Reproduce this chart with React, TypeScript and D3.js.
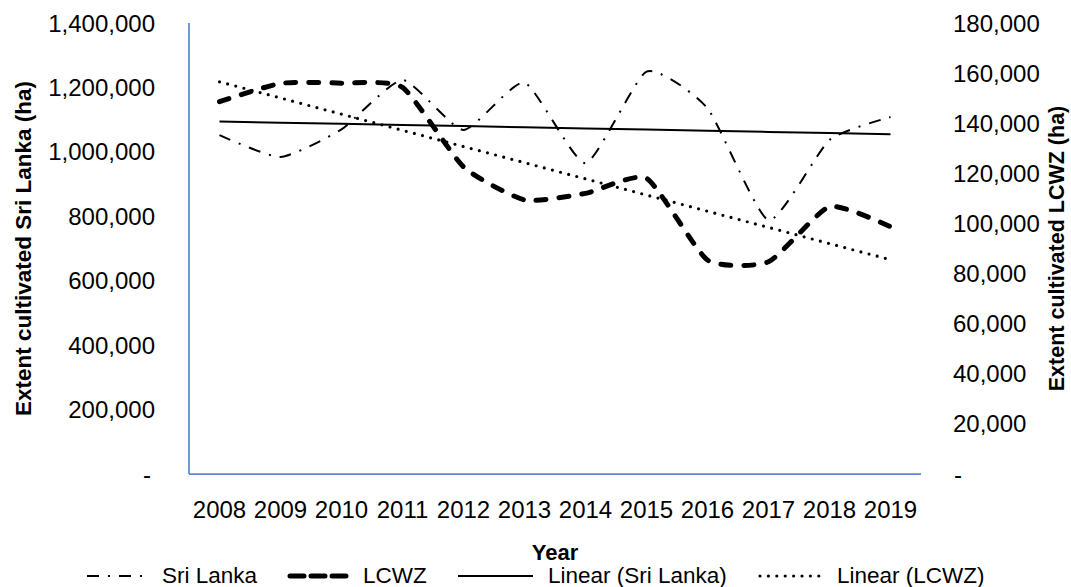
import React, { useEffect, useRef } from "react";
import * as d3 from "d3";

const years = ["2008", "2009", "2010", "2011", "2012", "2013", "2014", "2015", "2016", "2017", "2018", "2019"];
// extent cultivated, Sri Lanka (ha) - left axis
const sriLanka = [1052000, 984000, 1070000, 1223000, 1068000, 1215000, 965000, 1249000, 1135000, 788000, 1037000, 1108000];
// extent cultivated, LCWZ (ha) - right axis
const lcwz = [148600, 155900, 156000, 154300, 122600, 109400, 112000, 118000, 85400, 84700, 106700, 98700];
const leftTicks = [0, 200000, 400000, 600000, 800000, 1000000, 1200000, 1400000];
const rightTicks = [0, 20000, 40000, 60000, 80000, 100000, 120000, 140000, 160000, 180000];
const legendLabels = ["Sri Lanka", "LCWZ", "Linear (Sri Lanka)", "Linear (LCWZ)"];

const W = 1071;
const H = 587;
const FONT = "'Liberation Sans', Arial, sans-serif";
const AXIS_BLUE = "#5B8AD0";

// least squares trend, same as Excel's linear trendline
const linearFit = (vals: number[]) => {
  const n = vals.length;
  const mx = (n - 1) / 2;
  const my = d3.mean(vals) as number;
  let sxy = 0;
  let sxx = 0;
  vals.forEach((v, i) => {
    sxy += (i - mx) * (v - my);
    sxx += (i - mx) * (i - mx);
  });
  const slope = sxy / sxx;
  return vals.map((_, i) => my + slope * (i - mx));
};

const lineStyles = [
  { width: 2, dash: "12,9,2,9", cap: "butt" },
  { width: 5, dash: "10,13", cap: "round" },
  { width: 2, dash: "none", cap: "butt" },
  { width: 3.2, dash: "0,8.4", cap: "round" },
];

const App = () => {
  const svgRef = useRef<SVGSVGElement>(null);

  useEffect(() => {
    const svg = d3.select(svgRef.current);
    svg.selectAll("*").remove();

    const left = 189;
    const right = 921;
    const top = 23;
    const bottom = 474;

    const x = d3.scaleBand().domain(years).range([left, right]);
    const cx = (d: string) => (x(d) as number) + x.bandwidth() / 2;
    const yL = d3.scaleLinear().domain([0, 1400000]).range([bottom, top]);
    const yR = d3.scaleLinear().domain([0, 180000]).range([bottom, top]);

    const fmt = d3.format(",");

    // left tick labels
    svg
      .append("g")
      .selectAll("text")
      .data(leftTicks)
      .join("text")
      .attr("x", (d) => (d === 0 ? 151 : 155))
      .attr("y", (d) => yL(d) + 8.5)
      .attr("text-anchor", "end")
      .attr("font-family", FONT)
      .attr("font-size", 24)
      .attr("fill", "#000")
      .text((d) => (d === 0 ? "-" : fmt(d)));

    // right tick labels
    svg
      .append("g")
      .selectAll("text")
      .data(rightTicks)
      .join("text")
      .attr("x", (d) => (d === 0 ? 954 : 953))
      .attr("y", (d) => yR(d) + 8.5)
      .attr("text-anchor", "start")
      .attr("font-family", FONT)
      .attr("font-size", 24)
      .attr("fill", "#000")
      .text((d) => (d === 0 ? "-" : fmt(d)));

    // year labels
    svg
      .append("g")
      .selectAll("text")
      .data(years)
      .join("text")
      .attr("x", (d) => cx(d))
      .attr("y", 518)
      .attr("text-anchor", "middle")
      .attr("font-family", FONT)
      .attr("font-size", 24)
      .text((d) => d);

    // axis lines
    svg
      .append("line")
      .attr("x1", left)
      .attr("x2", left)
      .attr("y1", top)
      .attr("y2", bottom)
      .attr("stroke", AXIS_BLUE)
      .attr("stroke-width", 1.75);
    svg
      .append("line")
      .attr("x1", left)
      .attr("x2", right)
      .attr("y1", bottom)
      .attr("y2", bottom)
      .attr("stroke", AXIS_BLUE)
      .attr("stroke-width", 1.75);

    // series + trendlines
    const smooth = d3.curveCardinal.tension(0.45);
    const slLine = d3
      .line<number>()
      .x((_, i) => cx(years[i]))
      .y((d) => yL(d))
      .curve(smooth);
    const lcLine = d3
      .line<number>()
      .x((_, i) => cx(years[i]))
      .y((d) => yR(d))
      .curve(smooth);
    const slTrend = d3.line<number>().x((_, i) => cx(years[i])).y((d) => yL(d));
    const lcTrend = d3.line<number>().x((_, i) => cx(years[i])).y((d) => yR(d));

    const paths = [
      slLine(sriLanka),
      lcLine(lcwz),
      slTrend(linearFit(sriLanka)),
      lcTrend(linearFit(lcwz)),
    ];

    svg
      .append("g")
      .selectAll("path")
      .data(paths)
      .join("path")
      .attr("d", (d) => d as string)
      .attr("fill", "none")
      .attr("stroke", "#000")
      .attr("stroke-width", (_, i) => lineStyles[i].width)
      .attr("stroke-dasharray", (_, i) => lineStyles[i].dash)
      .attr("stroke-linecap", (_, i) => lineStyles[i].cap);

    // axis titles
    svg
      .append("text")
      .attr("transform", `translate(31, ${(top + bottom) / 2}) rotate(-90)`)
      .attr("text-anchor", "middle")
      .attr("font-family", FONT)
      .attr("font-weight", "bold")
      .attr("font-size", 22.5)
      .text("Extent cultivated Sri Lanka (ha)");
    svg
      .append("text")
      .attr("transform", `translate(1064, ${(top + bottom) / 2}) rotate(-90)`)
      .attr("text-anchor", "middle")
      .attr("font-family", FONT)
      .attr("font-weight", "bold")
      .attr("font-size", 21.5)
      .text("Extent cultivated LCWZ (ha)");
    svg
      .append("text")
      .attr("x", (left + right) / 2)
      .attr("y", 560)
      .attr("text-anchor", "middle")
      .attr("font-family", FONT)
      .attr("font-weight", "bold")
      .attr("font-size", 22)
      .text("Year");

    // legend
    const legendX = [
      [87, 147, 162],
      [290, 350, 363],
      [458, 533, 548],
      [760, 823, 837],
    ];
    const legend = svg
      .append("g")
      .selectAll("g")
      .data(legendLabels)
      .join("g");
    legend
      .append("line")
      .attr("x1", (_, i) => legendX[i][0])
      .attr("x2", (_, i) => legendX[i][1])
      .attr("y1", 576)
      .attr("y2", 576)
      .attr("stroke", "#000")
      .attr("stroke-width", (_, i) => lineStyles[i].width)
      .attr("stroke-dasharray", (_, i) => (i === 1 ? "14,7" : lineStyles[i].dash))
      .attr("stroke-linecap", (_, i) => lineStyles[i].cap);
    legend
      .append("text")
      .attr("x", (_, i) => legendX[i][2])
      .attr("y", 583)
      .attr("font-family", FONT)
      .attr("font-size", 22.5)
      .text((d) => d);
  }, []);

  return (
    <svg
      ref={svgRef}
      width={W}
      height={H}
      style={{ position: "absolute", left: 0, top: 0, background: "#fff" }}
    />
  );
};

export default App;
